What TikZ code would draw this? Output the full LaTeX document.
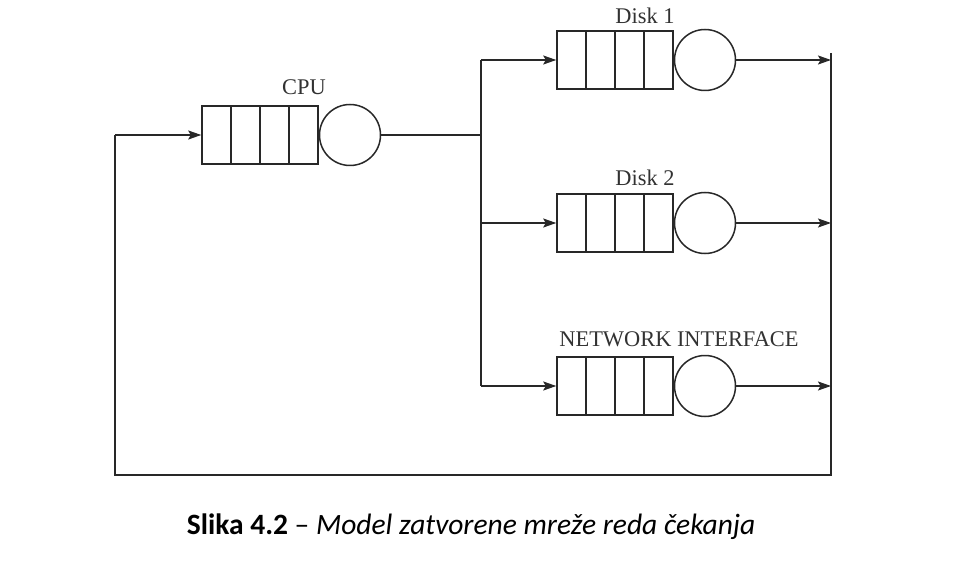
\documentclass[tikz,border=0pt]{standalone}
\usepackage{fontspec}
\setmainfont{Liberation Serif}
\newfontfamily\capfont{Carlito}
\usetikzlibrary{arrows.meta}
\definecolor{ln}{RGB}{40,40,40}
\definecolor{tx}{RGB}{50,50,50}
\tikzset{
  queuebox/.style={draw=ln, line width=1.5pt, minimum width=116pt, minimum height=58pt, inner sep=0pt,
    path picture={
      \foreach \k in {1,2,3}{
        \draw[ln, line width=1.5pt] ([xshift=\k*29pt]path picture bounding box.south west) -- ([xshift=\k*29pt]path picture bounding box.north west);
      }
    }},
  server/.style={draw=ln, line width=1.5pt, circle, minimum size=61pt, inner sep=0pt, anchor=west},
  lbl/.style={text=tx, font=\fontsize{22.4}{26}\selectfont, inner sep=0pt},
  wire/.style={draw=ln, line width=1.5pt},
  arr/.style={wire, -{Stealth[length=13pt,width=9pt,inset=2.5pt]}}
}
\begin{document}
\begin{tikzpicture}[x=1pt,y=-1pt]
\useasboundingbox (0,0) rectangle (955,561);
% queues
\node[queuebox] (qc) at (260,135) {};
\node[server] (sc) at (qc.east) {};
\node[queuebox] (q1) at (615,60) {};
\node[server] (s1) at (q1.east) {};
\node[queuebox] (q2) at (615,223) {};
\node[server] (s2) at (q2.east) {};
\node[queuebox] (q3) at (615,386) {};
\node[server] (s3) at (q3.east) {};
% labels
\node[lbl] (lc) at (304,87) {CPU};
\node[lbl] (l1) at (645,16) {Disk 1};
\node[lbl] (l2) at (645,178) {Disk 2};
\node[lbl] (l3) at (679,339) {NETWORK INTERFACE};
% coordinates
\coordinate (bj) at (481,135);
\coordinate (bt) at (481,60);
\coordinate (bm) at (481,223);
\coordinate (bb) at (481,386);
\coordinate (rt) at (831,53);
\coordinate (r1) at (831,60);
\coordinate (r2) at (831,223);
\coordinate (r3) at (831,386);
\coordinate (rb) at (831,475);
\coordinate (lb) at (115,475);
\coordinate (lt) at (115,135);
% wires
\draw[wire] (sc.east) -- (bj);
\draw[wire] (bt) -- (bb);
\draw[arr] (bt) -- (q1.west);
\draw[arr] (bm) -- (q2.west);
\draw[arr] (bb) -- (q3.west);
\draw[arr] (s1.east) -- (r1);
\draw[arr] (s2.east) -- (r2);
\draw[arr] (s3.east) -- (r3);
\draw[wire] (rt) -- (rb) -- (lb) -- (lt);
\draw[arr] (lt) -- (qc.west);
% caption
\node[font=\capfont\fontsize{29.5}{34}\selectfont, inner sep=0pt] (cap) at (471,527) {\textbf{Slika 4.2} – \textit{Model zatvorene mreže reda čekanja}};
\end{tikzpicture}
\end{document}
